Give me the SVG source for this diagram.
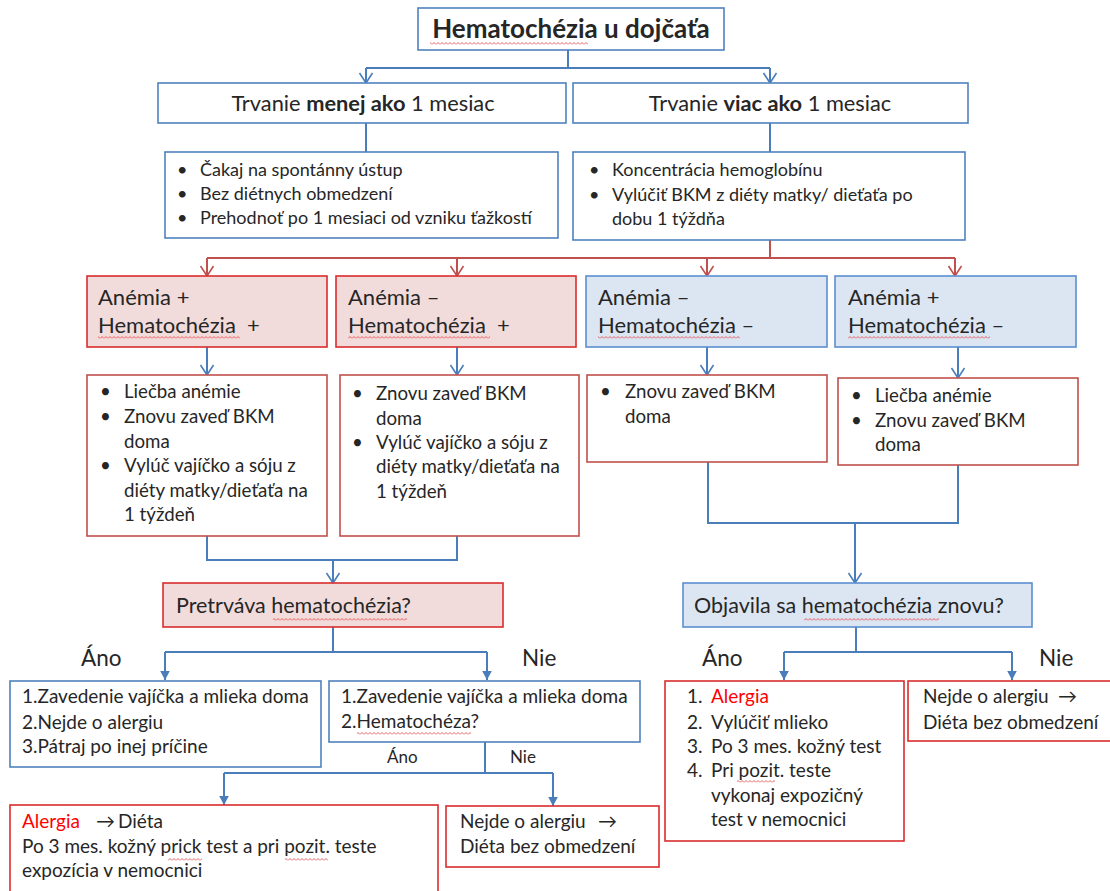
<svg xmlns="http://www.w3.org/2000/svg" width="1110" height="891" viewBox="0 0 1110 891">
<defs>
<style>
.t{font-family:Lato,"Open Sans","Liberation Sans",sans-serif;fill:#262626}
.title{font-size:26px;font-weight:bold}
.tr{font-size:21.8px}
.b1{font-size:18px}
.h{font-size:22px}
.b2{font-size:18.7px}
.b3{font-size:19px}
.q{font-size:21.5px}
.yn{font-size:22.5px}
.yns{font-size:17px}
.red{fill:#ff0000}
.bx{fill:#ffffff;stroke:#4f81bd;stroke-width:1.6}
.bxr{fill:#ffffff;stroke:#d92c2c;stroke-width:1.6}
.bxm{fill:#ffffff;stroke:#c0504d;stroke-width:1.6}
.pk{fill:#f2dcdb;stroke:#d92c2c;stroke-width:1.6}
.lb{fill:#dce6f2;stroke:#5b8ed0;stroke-width:1.6}
.cb{fill:none;stroke:#4a7ebb;stroke-width:2}
.cr{fill:none;stroke:#c0504d;stroke-width:2}
.sq{fill:url(#wave)}
</style>
<pattern id="wave" width="4" height="3" patternUnits="userSpaceOnUse">
<path d="M0,2.5 L2,0.5 L4,2.5" fill="none" stroke="#e23a3a" stroke-width="0.8"/>
</pattern>
<marker id="vb" viewBox="-12 -8 14 16" refX="0" refY="0" markerWidth="14" markerHeight="16" markerUnits="userSpaceOnUse" orient="auto">
<path d="M-10,-6.5 L0,0 L-10,6.5" fill="none" stroke="#4a7ebb" stroke-width="1.6"/>
</marker>
<marker id="vr" viewBox="-12 -8 14 16" refX="0" refY="0" markerWidth="14" markerHeight="16" markerUnits="userSpaceOnUse" orient="auto">
<path d="M-10,-6.5 L0,0 L-10,6.5" fill="none" stroke="#c0504d" stroke-width="1.6"/>
</marker>
<marker id="fb" viewBox="-10 -6 11 12" refX="0" refY="0" markerWidth="11" markerHeight="12" markerUnits="userSpaceOnUse" orient="auto">
<path d="M-9,-4.8 L0,0 L-9,4.8 Z" fill="#4a7ebb"/>
</marker>
</defs>
<rect width="1110" height="891" fill="#ffffff"/>

<g id="connectors">
<path class="cb" d="M568,50 V68 M366,68 H770"/>
<path class="cb" d="M366,68 V83" marker-end="url(#vb)"/>
<path class="cb" d="M770,68 V83" marker-end="url(#vb)"/>
<path class="cb" d="M366,123 V152 M770,123 V152"/>
<path class="cr" d="M770,240 V258 M207,258 H955"/>
<path class="cr" d="M207,258 V276" marker-end="url(#vr)"/>
<path class="cr" d="M457,258 V276" marker-end="url(#vr)"/>
<path class="cr" d="M707,258 V276" marker-end="url(#vr)"/>
<path class="cr" d="M955,258 V276" marker-end="url(#vr)"/>
<path class="cb" d="M207,347 V375" marker-end="url(#vb)"/>
<path class="cb" d="M457,347 V375" marker-end="url(#vb)"/>
<path class="cb" d="M707,347 V375" marker-end="url(#vb)"/>
<path class="cb" d="M958,347 V378" marker-end="url(#vb)"/>
<path class="cb" d="M207,536 V560 H457 V536"/>
<path class="cb" d="M333,560 V583" marker-end="url(#vb)"/>
<path class="cb" d="M708,462 V523 H958 V465"/>
<path class="cb" d="M855,523 V583" marker-end="url(#vb)"/>
<path class="cb" d="M333,627 V652 M165,652 H487"/>
<path class="cb" d="M165,652 V680" marker-end="url(#fb)"/>
<path class="cb" d="M487,652 V680" marker-end="url(#fb)"/>
<path class="cb" d="M856,627 V652 M784,652 H1012"/>
<path class="cb" d="M784,652 V680" marker-end="url(#fb)"/>
<path class="cb" d="M1012,652 V680" marker-end="url(#fb)"/>
<path class="cb" d="M485,742 V773 M224,773 H553"/>
<path class="cb" d="M224,773 V805" marker-end="url(#fb)"/>
<path class="cb" d="M553,773 V806" marker-end="url(#fb)"/>
</g>

<g id="title">
<rect class="bx" x="418" y="8" width="306" height="42"/>
<text class="t title" x="571" y="38" text-anchor="middle">Hematochézia u dojčaťa</text>
<rect class="sq" x="430" y="42" width="158" height="3"/>
</g>

<g id="trvanie-menej">
<rect class="bx" x="158" y="83" width="408" height="40"/>
<text class="t tr" x="363" y="111" text-anchor="middle">Trvanie <tspan font-weight="bold">menej ako</tspan> 1 mesiac</text>
</g>

<g id="trvanie-viac">
<rect class="bx" x="573" y="83" width="395" height="40"/>
<text class="t tr" x="770" y="111" text-anchor="middle">Trvanie <tspan font-weight="bold">viac ako</tspan> 1 mesiac</text>
</g>

<g id="list-menej">
<rect class="bx" x="165" y="152" width="393" height="86"/>
<text class="t b1"><tspan x="177" y="176">•</tspan><tspan x="200" y="176">Čakaj na spontánny ústup</tspan><tspan x="177" y="200">•</tspan><tspan x="200" y="200">Bez diétnych obmedzení</tspan><tspan x="177" y="224">•</tspan><tspan x="200" y="224">Prehodnoť po 1 mesiaci od vzniku ťažkostí</tspan></text>
</g>

<g id="list-viac">
<rect class="bx" x="573" y="152" width="392" height="88"/>
<text class="t b1"><tspan x="589" y="176">•</tspan><tspan x="612" y="176">Koncentrácia hemoglobínu</tspan><tspan x="589" y="201">•</tspan><tspan x="612" y="201">Vylúčiť BKM z diéty matky/ dieťaťa po</tspan><tspan x="612" y="225">dobu 1 týždňa</tspan></text>
</g>

<g id="h1">
<rect class="pk" x="87" y="276" width="240" height="71"/>
<text class="t h"><tspan x="98" y="305">Anémia +</tspan><tspan x="98" y="333">Hematochézia</tspan><tspan x="247" y="333">+</tspan></text>
<rect class="sq" x="98" y="336" width="142" height="3"/>
</g>

<g id="h2">
<rect class="pk" x="336" y="276" width="240" height="71"/>
<text class="t h"><tspan x="348" y="305">Anémia –</tspan><tspan x="348" y="333">Hematochézia</tspan><tspan x="497" y="333">+</tspan></text>
<rect class="sq" x="348" y="336" width="142" height="3"/>
</g>

<g id="h3">
<rect class="lb" x="586" y="276" width="241" height="71"/>
<text class="t h"><tspan x="598" y="305">Anémia –</tspan><tspan x="598" y="333">Hematochézia –</tspan></text>
<rect class="sq" x="598" y="336" width="142" height="3"/>
</g>

<g id="h4">
<rect class="lb" x="835" y="276" width="241" height="71"/>
<text class="t h"><tspan x="848" y="305">Anémia +</tspan><tspan x="848" y="333">Hematochézia –</tspan></text>
<rect class="sq" x="848" y="336" width="142" height="3"/>
</g>

<g id="b1">
<rect class="bxm" x="87" y="375" width="240" height="161"/>
<text class="t b2"><tspan x="100" y="398">•</tspan><tspan x="124" y="398">Liečba anémie</tspan><tspan x="100" y="423">•</tspan><tspan x="124" y="423">Znovu zaveď BKM</tspan><tspan x="124" y="448">doma</tspan><tspan x="100" y="472">•</tspan><tspan x="124" y="472">Vylúč vajíčko a sóju z</tspan><tspan x="124" y="497">diéty matky/dieťaťa na</tspan><tspan x="124" y="521">1 týždeň</tspan></text>
</g>

<g id="b2">
<rect class="bxm" x="340" y="375" width="239" height="161"/>
<text class="t b2"><tspan x="352" y="400">•</tspan><tspan x="376" y="400">Znovu zaveď BKM</tspan><tspan x="376" y="425">doma</tspan><tspan x="352" y="449">•</tspan><tspan x="376" y="449">Vylúč vajíčko a sóju z</tspan><tspan x="376" y="473">diéty matky/dieťaťa na</tspan><tspan x="376" y="498">1 týždeň</tspan></text>
</g>

<g id="b3">
<rect class="bxm" x="587" y="375" width="240" height="87"/>
<text class="t b2"><tspan x="600" y="398">•</tspan><tspan x="625" y="398">Znovu zaveď BKM</tspan><tspan x="625" y="423">doma</tspan></text>
</g>

<g id="b4">
<rect class="bxm" x="838" y="378" width="240" height="87"/>
<text class="t b2"><tspan x="851" y="402">•</tspan><tspan x="875" y="402">Liečba anémie</tspan><tspan x="851" y="427">•</tspan><tspan x="875" y="427">Znovu zaveď BKM</tspan><tspan x="875" y="451">doma</tspan></text>
</g>

<g id="q-pretrvava">
<rect class="pk" x="163" y="583" width="340" height="44"/>
<text class="t q" x="176" y="613">Pretrváva hematochézia?</text>
<rect class="sq" x="273" y="618" width="134" height="3"/>
</g>

<g id="q-objavila">
<rect class="lb" x="683" y="583" width="349" height="44"/>
<text class="t q" x="694" y="613">Objavila sa hematochézia znovu?</text>
<rect class="sq" x="804" y="618" width="135" height="3"/>
</g>

<g id="labels">
<text class="t yn" x="81" y="666">Áno</text>
<text class="t yn" x="522" y="666">Nie</text>
<text class="t yn" x="702" y="666">Áno</text>
<text class="t yn" x="1039" y="666">Nie</text>
<text class="t yns" x="387" y="763">Áno</text>
<text class="t yns" x="510" y="763">Nie</text>
</g>

<g id="r1">
<rect class="bx" x="10" y="681" width="311" height="86"/>
<text class="t b3"><tspan x="22" y="703">1.Zavedenie vajíčka a mlieka doma</tspan><tspan x="22" y="729">2.Nejde o alergiu</tspan><tspan x="22" y="753">3.Pátraj po inej príčine</tspan></text>
</g>

<g id="r2">
<rect class="bx" x="329" y="681" width="311" height="61"/>
<text class="t b3"><tspan x="341" y="703">1.Zavedenie vajíčka a mlieka doma</tspan><tspan x="341" y="728">2.Hematochéza?</tspan></text>
<rect class="sq" x="357" y="732" width="114" height="3"/>
</g>

<g id="r3">
<rect class="bxr" x="665" y="681" width="239" height="160"/>
<text class="t b3"><tspan x="687" y="703">1.</tspan><tspan x="711" y="703" class="red">Alergia</tspan><tspan x="687" y="729">2.</tspan><tspan x="711" y="729">Vylúčiť mlieko</tspan><tspan x="687" y="753">3.</tspan><tspan x="711" y="753">Po 3 mes. kožný test</tspan><tspan x="687" y="777">4.</tspan><tspan x="711" y="777">Pri pozit. teste</tspan><tspan x="711" y="802">vykonaj expozičný</tspan><tspan x="711" y="826">test v nemocnici</tspan></text>
<rect class="sq" x="737" y="780" width="38" height="3"/>
</g>

<g id="r4">
<rect class="bxr" x="908" y="681" width="210" height="60"/>
<text class="t b3"><tspan x="923" y="703">Nejde o alergiu</tspan><tspan x="1058" y="703">→</tspan><tspan x="923" y="729">Diéta bez obmedzení</tspan></text>
</g>

<g id="s1">
<rect class="bxr" x="10" y="805" width="428" height="100"/>
<text class="t b3"><tspan x="22" y="828" class="red">Alergia</tspan><tspan x="96" y="828">→</tspan><tspan x="118" y="828">Diéta</tspan><tspan x="22" y="853">Po 3 mes. kožný prick test a pri pozit. teste</tspan><tspan x="22" y="877">expozícia v nemocnici</tspan></text>
<rect class="sq" x="168" y="858" width="34" height="3"/>
<rect class="sq" x="285" y="858" width="43" height="3"/>
</g>

<g id="s2">
<rect class="bxr" x="446" y="806" width="213" height="61"/>
<text class="t b3"><tspan x="460" y="828">Nejde o alergiu</tspan><tspan x="598" y="828">→</tspan><tspan x="460" y="853">Diéta bez obmedzení</tspan></text>
</g>
</svg>
